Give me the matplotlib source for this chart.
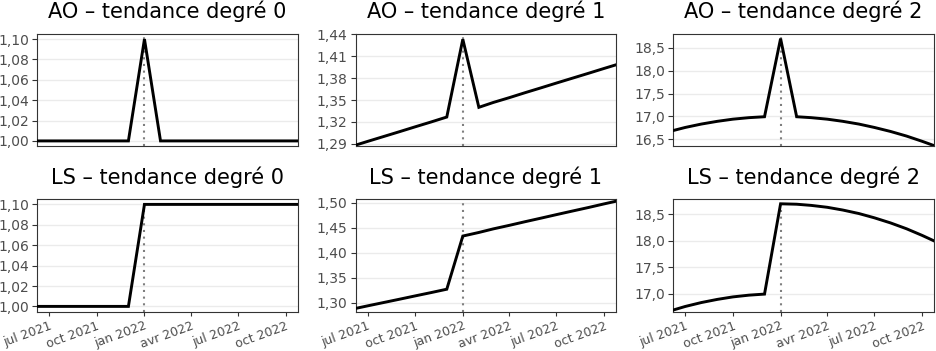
import matplotlib
matplotlib.use("Agg")
import matplotlib.pyplot as plt
import pandas as pd

# ---------------- data ----------------
months = pd.date_range("2021-06-01", "2022-11-01", freq="MS")  # 18 monthly points

ao_deg0 = [1.00, 1.00, 1.00, 1.00, 1.00, 1.00, 1.00, 1.10, 1.00,
           1.00, 1.00, 1.00, 1.00, 1.00, 1.00, 1.00, 1.00, 1.00]
ao_deg1 = [1.2867, 1.2933, 1.3000, 1.3067, 1.3133, 1.3200, 1.3267, 1.4333, 1.3400,
           1.3467, 1.3533, 1.3600, 1.3667, 1.3733, 1.3800, 1.3867, 1.3933, 1.4000]
ao_deg2 = [16.672, 16.759, 16.833, 16.893, 16.940, 16.973, 16.993, 18.700, 16.993,
           16.973, 16.940, 16.893, 16.833, 16.759, 16.672, 16.571, 16.457, 16.330]
ls_deg0 = [1.00, 1.00, 1.00, 1.00, 1.00, 1.00, 1.00, 1.10, 1.10,
           1.10, 1.10, 1.10, 1.10, 1.10, 1.10, 1.10, 1.10, 1.10]
ls_deg1 = [1.2867, 1.2933, 1.3000, 1.3067, 1.3133, 1.3200, 1.3267, 1.4333, 1.4405,
           1.4477, 1.4548, 1.4620, 1.4692, 1.4763, 1.4835, 1.4906, 1.4978, 1.5050]
ls_deg2 = [16.672, 16.759, 16.833, 16.893, 16.940, 16.973, 16.993, 18.700, 18.692,
           18.670, 18.634, 18.582, 18.516, 18.435, 18.339, 18.228, 18.103, 17.963]

titles = ["AO – tendance degré 0", "AO – tendance degré 1", "AO – tendance degré 2",
          "LS – tendance degré 0", "LS – tendance degré 1", "LS – tendance degré 2"]
series = [ao_deg0, ao_deg1, ao_deg2, ls_deg0, ls_deg1, ls_deg2]

event_date = "2022-01-01"
x_limits = ["2021-06-08", "2022-10-24"]
tick_dates = ["2021-07-01", "2021-10-01", "2022-01-01", "2022-04-01", "2022-07-01", "2022-10-01"]
tick_labels = ["jul 2021", "oct 2021", "jan 2022", "avr 2022", "jul 2022", "oct 2022"]

y_limits = [(0.995, 1.105), (1.287, 1.4405), (16.354, 18.80),
            (0.995, 1.105), (1.282, 1.507), (16.664, 18.785)]
y_ticks = [[1.00, 1.02, 1.04, 1.06, 1.08, 1.10],
           [1.29, 1.32, 1.35, 1.38, 1.41, 1.44],
           [16.5, 17.0, 17.5, 18.0, 18.5],
           [1.00, 1.02, 1.04, 1.06, 1.08, 1.10],
           [1.30, 1.35, 1.40, 1.45, 1.50],
           [17.0, 17.5, 18.0, 18.5]]
y_decimals = [2, 2, 1, 2, 2, 1]

# ---------------- layout ----------------
plt.rcParams['font.family'] = ['DejaVu Sans']
W, H = 937, 351
fig = plt.figure(figsize=(W / 100, H / 100), dpi=100)

col_l = [37.3, 355.7, 673.3]
col_r = [297.7, 616.0, 934.0]
row_t = [34.0, 199.3]
row_b = [146.0, 311.5]

for i in range(6):
    r, c = divmod(i, 3)
    l, rr, t, b = col_l[c], col_r[c], row_t[r], row_b[r]
    ax = fig.add_axes([l / W, 1 - b / H, (rr - l) / W, (b - t) / H])
    ax.axvline(pd.Timestamp(event_date), color="#7f7f7f", linestyle=(0, (1, 2.2)),
               linewidth=1.5, zorder=2)
    ax.plot(months, series[i], color="black", linewidth=2.1, zorder=3,
            solid_joinstyle="miter")
    ax.set_xlim(pd.Timestamp(x_limits[0]), pd.Timestamp(x_limits[1]))
    ax.set_ylim(*y_limits[i])
    ax.set_yticks(y_ticks[i])
    d = y_decimals[i]
    ax.set_yticklabels([f"{v:.{d}f}".replace(".", ",") for v in y_ticks[i]])
    ax.grid(axis="y", color="#EBEBEB", linewidth=1.0, zorder=0)
    ax.set_axisbelow(True)
    for s in ax.spines.values():
        s.set_color("#333333")
        s.set_linewidth(0.8)
    ax.tick_params(axis="y", labelsize=10, labelcolor="#4D4D4D", color="#333333",
                   length=3.6, width=0.8, pad=2.2)
    ax.set_xticks([pd.Timestamp(dd) for dd in tick_dates])
    if r == 1:
        ax.set_xticklabels(tick_labels)
        ax.tick_params(axis="x", labelsize=9, labelcolor="#4D4D4D", color="#333333",
                       length=3.2, width=0.8, pad=2.6)
        for lab in ax.get_xticklabels():
            lab.set_rotation(20)
            lab.set_ha("right")
            lab.set_va("top")
            lab.set_rotation_mode("anchor")
    else:
        ax.tick_params(axis="x", length=0, labelbottom=False)
    ax.set_title(titles[i], fontsize=15, pad=11.3, color="black")

fig.savefig("out.png", dpi=100)
